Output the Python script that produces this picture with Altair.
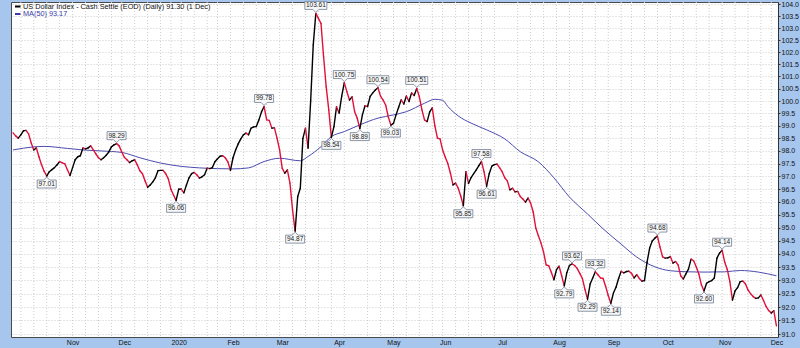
import altair as alt
import pandas as pd
import numpy as np

# ---------------- data ----------------
holidays = ["2019-11-28", "2019-12-25", "2020-01-01", "2020-01-20", "2020-02-17",
            "2020-04-10", "2020-05-25", "2020-07-03", "2020-09-07", "2020-11-26"]

close_2019_10 = [98.72, 98.60, 98.51, 98.64, 98.80, 98.82, 98.68, 98.32, 98.04, 98.12, 97.77, 97.45,
                 97.20, 97.01, 97.18, 97.26, 97.34, 97.45, 97.58, 97.53, 97.49, 97.26, 97.03]
close_2019_11 = [97.34, 97.65, 97.77, 97.81, 98.12, 98.08, 98.12, 98.20, 98.04, 97.88, 97.73, 97.65,
                 97.73, 97.83, 97.96, 98.16, 98.24, 98.29, 98.20, 97.96]
close_2019_12 = [97.75, 97.65, 97.54, 97.61, 97.65, 97.45, 97.22, 97.10, 96.82, 96.57, 96.66, 96.78,
                 96.94, 97.22, 97.23, 97.23, 97.10, 96.90, 96.49, 96.27, 96.06]
close_2020_01 = [96.49, 96.50, 96.35, 96.66, 96.94, 97.10, 97.15, 97.06, 96.93, 96.98, 97.06, 97.32,
                 97.30, 97.34, 97.57, 97.69, 97.79, 97.81, 97.73, 97.57, 97.23]
close_2020_02 = [97.73, 98.04, 98.28, 98.48, 98.64, 98.71, 98.64, 98.91, 98.96, 98.97, 99.24, 99.56,
                 99.78, 99.24, 99.22, 98.91, 98.92, 98.51, 98.04]
close_2020_03 = [97.32, 97.12, 97.25, 96.73, 95.69, 94.87, 96.21, 96.53, 98.50, 98.91, 98.11, 100.00,
                 102.30, 103.61, 103.40, 103.19, 101.81, 100.58, 99.64, 98.54, 98.97, 99.77]
close_2020_04 = [99.51, 100.20, 100.75, 100.38, 100.04, 100.17, 99.57, 99.31, 98.89, 99.44, 99.81,
                 99.78, 100.19, 100.33, 100.45, 100.54, 100.20, 100.04, 99.83, 99.36, 99.03]
close_2020_05 = [99.10, 99.44, 99.75, 100.05, 99.88, 100.20, 99.98, 100.33, 100.22, 100.51, 100.17,
                 99.64, 99.24, 99.17, 99.56, 99.72, 99.00, 98.51, 98.48, 98.04]
close_2020_06 = [97.76, 97.50, 97.13, 96.66, 96.73, 96.54, 96.23, 95.85, 97.18, 96.72, 96.95, 97.10,
                 97.25, 97.42, 97.58, 97.18, 96.61, 97.10, 97.40, 97.46, 97.48, 97.34]
close_2020_07 = [97.18, 96.94, 96.82, 96.47, 96.53, 96.39, 96.41, 96.21, 96.11, 95.99, 96.15, 95.95,
                 95.61, 94.99, 94.69, 94.42, 94.07, 93.58, 93.55, 93.30, 93.02, 93.40]
close_2020_08 = [93.53, 93.17, 92.79, 93.29, 93.56, 93.62, 93.56, 93.45, 93.26, 93.07, 92.66, 92.29,
                 92.86, 93.09, 93.32, 93.21, 93.09, 93.07, 92.77, 92.43, 92.14]
close_2020_09 = [92.52, 92.74, 93.07, 93.34, 93.28, 93.33, 93.34, 93.26, 93.09, 93.21, 93.07, 92.97,
                 92.99, 93.69, 94.22, 94.49, 94.60, 94.68, 94.26, 93.89, 93.84]
close_2020_10 = [93.85, 93.90, 93.65, 93.71, 93.58, 93.17, 93.05, 93.24, 93.42, 93.80, 93.74, 93.51,
                 93.24, 92.83, 92.60, 92.89, 92.95, 92.99, 93.09, 93.84, 94.03, 94.14]
close_2020_11 = [93.69, 93.41, 92.95, 92.26, 92.60, 92.73, 92.95, 92.97, 92.87, 92.64, 92.50, 92.39,
                 92.32, 92.34, 92.45, 92.24, 92.02, 91.87, 91.78, 91.86]
close_2020_12 = [91.30]

ma_dates = ["2019-10-01", "2019-10-11", "2019-10-17", "2019-10-30", "2019-11-07", "2019-11-18",
            "2019-11-29", "2019-12-10", "2019-12-20", "2020-01-03", "2020-01-14", "2020-01-24",
            "2020-02-03", "2020-02-11", "2020-02-20", "2020-02-28", "2020-03-11", "2020-03-16",
            "2020-03-23", "2020-03-27", "2020-04-03", "2020-04-14", "2020-04-23", "2020-05-01",
            "2020-05-08", "2020-05-19", "2020-05-26", "2020-05-29", "2020-06-02", "2020-06-08",
            "2020-06-15", "2020-06-23", "2020-07-02", "2020-07-13", "2020-07-22", "2020-07-30",
            "2020-08-07", "2020-08-18", "2020-08-26", "2020-09-04", "2020-09-15", "2020-09-24",
            "2020-10-02", "2020-10-13", "2020-10-21", "2020-11-02", "2020-11-10", "2020-11-19",
            "2020-12-01"]
ma_values = [98.04, 98.16, 98.18, 98.10, 98.04, 98.00, 97.94, 97.73, 97.52, 97.39, 97.33, 97.30,
             97.29, 97.33, 97.58, 97.71, 97.61, 97.78, 98.17, 98.57, 98.77, 99.04, 99.31, 99.44,
             99.57, 99.91, 100.07, 100.03, 99.78, 99.40, 99.11, 98.84, 98.48, 97.97, 97.57, 96.94,
             96.19, 95.53, 94.96, 94.37, 93.88, 93.51, 93.36, 93.32, 93.31, 93.32, 93.37, 93.31,
             93.17]

high_dates = ["2019-11-26", "2020-02-20", "2020-03-19", "2020-04-03", "2020-04-23", "2020-05-14",
              "2020-06-19", "2020-08-10", "2020-08-21", "2020-09-25", "2020-10-30"]
low_dates = ["2019-10-18", "2019-12-31", "2020-03-09", "2020-03-27", "2020-04-14", "2020-04-30",
             "2020-06-10", "2020-06-23", "2020-08-05", "2020-08-18", "2020-08-31", "2020-10-21"]

y_ticks = [91.0 + 0.5 * k for k in range(27)]

# ---------------- tables ----------------
close = (close_2019_10 + close_2019_11 + close_2019_12 + close_2020_01 + close_2020_02 +
         close_2020_03 + close_2020_04 + close_2020_05 + close_2020_06 + close_2020_07 +
         close_2020_08 + close_2020_09 + close_2020_10 + close_2020_11 + close_2020_12)
days = [d for d in pd.bdate_range("2019-10-01", "2020-12-01")
        if d.strftime("%Y-%m-%d") not in holidays]
assert len(days) == len(close), (len(days), len(close))
n = len(close)
idx_of = {d.strftime("%Y-%m-%d"): i for i, d in enumerate(days)}

seg = pd.DataFrame({
    "i0": list(range(n - 1)), "i1": list(range(1, n)),
    "v0": close[:-1], "v1": close[1:],
})
seg["dir"] = np.where(seg["v1"] >= seg["v0"], "up", "down")

ma = pd.DataFrame({"idx": [idx_of[d] for d in ma_dates], "v": ma_values})

month_idx, month_lab = [], []
for i in range(1, n):
    if days[i].month != days[i - 1].month:
        month_idx.append(i)
        month_lab.append(str(days[i].year) if days[i].month == 1 else days[i].strftime("%b"))
label_expr = "".join(f"datum.value == {i} ? '{l}' : " for i, l in zip(month_idx, month_lab)) + "''"

fridays = pd.DataFrame({"idx": [i for i, d in enumerate(days) if d.weekday() == 4]})


def ann_table(dlist, kind):
    rows = []
    for d in dlist:
        i = idx_of[d]
        lab = f"{close[i]:.2f}"
        h = 11 if len(lab) > 5 else 9.5
        if kind == "high":
            path = f"M0,-1L3,-4L{h},-4L{h},-12L-{h},-12L-{h},-4L-3,-4Z"
        else:
            path = f"M0,1L3,4L{h},4L{h},12L-{h},12L-{h},4L-3,4Z"
        rows.append({"idx": i, "v": close[i], "label": lab, "path": path})
    return pd.DataFrame(rows)


highs = ann_table(high_dates, "high")
lows = ann_table(low_dates, "low")

# ---------------- scales & axes ----------------
FONT = "Liberation Sans"
xs = alt.Scale(domain=[-0.8, 295.6], nice=False, zero=False)
ys = alt.Scale(type="log", domain=[90.89, 104.09], nice=False, zero=False)
xaxis = alt.Axis(values=month_idx, labelExpr=label_expr, ticks=False, domain=False, grid=False,
                 title=None, labelFont=FONT, labelFontSize=7, labelColor="#111111",
                 labelPadding=1, labelOverlap=False, labelFlush=False, labelBound=False,
                 labelFontWeight={"condition": {"test": "datum.label == '2020'", "value": "bold"},
                                  "value": "normal"})
yaxis = alt.Axis(orient="right", values=y_ticks, format=".1f", title=None, labelFont=FONT,
                 labelFontSize=7, labelColor="#111111", labelPadding=1, tickSize=2,
                 tickColor="#333333", domainColor="#333333", gridColor="#cccccc",
                 gridDash=[1, 2], labelFlush=False, labelOverlap=False, labelBaseline="middle")

X = lambda f: alt.X(f, type="quantitative", scale=xs, axis=xaxis)
Y = lambda f: alt.Y(f, type="quantitative", scale=ys, axis=yaxis)

vgrid = alt.Chart(fridays).mark_rule(color="#cccccc", strokeDash=[1, 2], strokeWidth=1).encode(
    x=X("idx"))

ma_line = alt.Chart(ma).mark_line(color="#4B4BB0", strokeWidth=1, interpolate="monotone").encode(
    x=X("idx"), y=Y("v"))

price = alt.Chart(seg).mark_rule(strokeWidth=1.4, strokeCap="round").encode(
    x=X("i0"), x2="i1", y=Y("v0"), y2="v1",
    color=alt.Color("dir:N", scale=alt.Scale(domain=["up", "down"], range=["#000000", "#E0103A"]),
                    legend=None))


def ann_layers(df, dy):
    box = alt.Chart(df).mark_point(filled=True, fill="#f7f7f7", stroke="#6f7e96", strokeWidth=0.8,
                                   opacity=1, size=4).encode(
        x=X("idx"), y=Y("v"), shape=alt.Shape("path:N", scale=None))
    txt = alt.Chart(df).mark_text(font=FONT, fontSize=6.5, color="#1a1a1a", dy=dy,
                                  baseline="middle", align="center").encode(
        x=X("idx"), y=Y("v"), text="label:N")
    return [box, txt]


legend_df = pd.DataFrame({
    "t": [f"US Dollar Index - Cash Settle (EOD) (Daily) {close[-1]:.2f} (1 Dec)",
          f"MA(50) {ma_values[-1]:.2f}"]})
leg1_txt = alt.Chart(legend_df.iloc[[0]]).mark_text(
    font=FONT, fontSize=7.3, color="#111111", align="left", baseline="middle").encode(
    x=alt.value(12), y=alt.value(4.5), text="t:N")
leg2_txt = alt.Chart(legend_df.iloc[[1]]).mark_text(
    font=FONT, fontSize=7.3, color="#3a3aa8", align="left", baseline="middle").encode(
    x=alt.value(12), y=alt.value(12), text="t:N")
leg1_line = alt.Chart(legend_df.iloc[[0]]).mark_rule(color="#000000", strokeWidth=2).encode(
    x=alt.value(4), x2=alt.value(9.5), y=alt.value(4.5))
leg2_line = alt.Chart(legend_df.iloc[[1]]).mark_rule(color="#3a3aa8", strokeWidth=2).encode(
    x=alt.value(4), x2=alt.value(9.5), y=alt.value(12))

chart = alt.layer(
    vgrid, ma_line, price,
    *ann_layers(highs, -8), *ann_layers(lows, 8),
    leg1_line, leg1_txt, leg2_line, leg2_txt,
).properties(
    width=767, height=335,
    padding={"left": 11, "top": 2, "right": 22, "bottom": 11},
    autosize="none",
    background="#A6C6EE",
).configure_view(fill="white", stroke="#4a4a4a", strokeWidth=1)

chart.save("out.html", embed_options={"renderer": "svg", "actions": False})
